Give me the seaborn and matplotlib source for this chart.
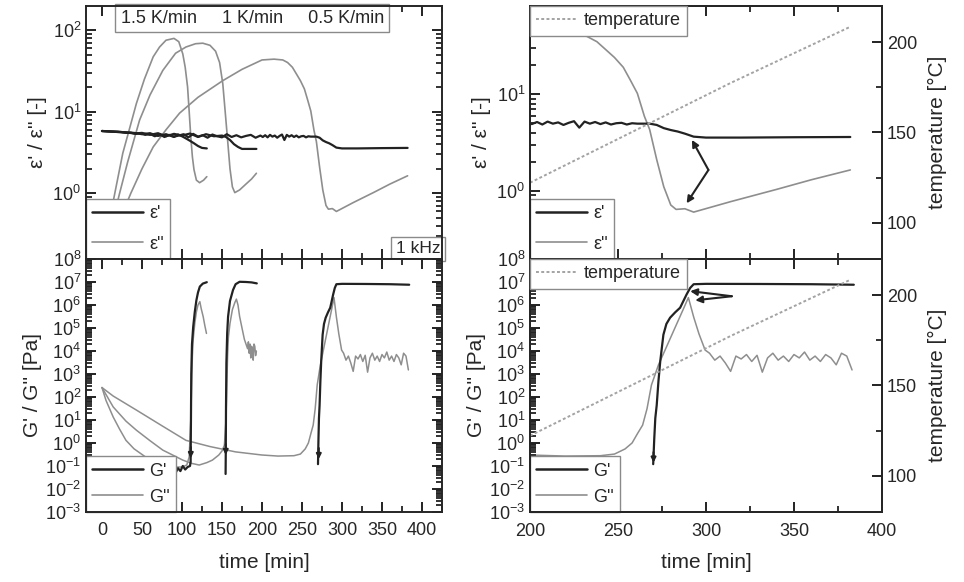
import numpy as np
import matplotlib
matplotlib.use("Agg")
import matplotlib.pyplot as plt
import matplotlib.ticker as mticker
from matplotlib.lines import Line2D
import seaborn as sns

# ── Data ─────────────────────────────────────────────────────────
# 1.5 K/min
time_15_e1 = [0, 10, 20, 30, 40, 50, 60, 70, 80, 90, 95, 100, 105, 110, 115, 120, 125, 131]
eps1_15 = [5.8, 5.75, 5.7, 5.55, 5.5, 5.3, 5.45, 5.05, 5.3, 4.9, 5.25, 5.0, 4.7, 4.4, 4.1, 3.8, 3.6, 3.55]
time_15_e2 = [0, 10, 16, 26, 35, 43, 53, 64, 72, 80, 90, 96, 101, 104, 107, 109, 111, 113, 115, 118, 122, 127, 131]
eps2_15 = [0.2, 0.5, 1.0, 3.1, 6.5, 12.6, 25, 47, 62, 75, 79, 72, 51, 35, 20, 10, 4.9, 2.8, 1.95, 1.45, 1.35, 1.45, 1.6]
time_15_g1 = [86, 89, 92, 95, 98, 101, 104, 107, 110, 110.8, 111.2, 111.6, 112.5, 114, 116, 118, 120, 122.3, 126, 131]
g1_15 = [0.06, 0.09, 0.05, 0.08, 0.06, 0.1, 0.07, 0.09, 0.1, 0.15, 10, 1e3, 2e4, 1.1e5, 5e5, 1.6e6, 3.5e6, 6.3e6, 8.5e6, 9.8e6]
time_15_g2 = [0, 5, 14, 22, 30, 40, 51, 60, 70, 80, 90, 100, 106, 109, 111, 112, 113, 114, 116, 118, 120, 122.3, 124, 126.5, 128.5, 130.6]
g2_15 = [257, 71, 13.5, 4.0, 1.3, 0.56, 0.3, 0.18, 0.13, 0.1, 0.09, 0.09, 0.11, 0.25, 10, 316, 6.3e3, 3.2e4,
         1.6e5, 5e5, 1e6, 1.4e6, 7e5, 3.1e5, 1.3e5, 5.8e4]

# 1 K/min
time_1_e1 = [0, 10, 20, 30, 40, 50, 60, 70, 80, 90, 100, 110, 120, 130, 140, 150, 155, 160, 165, 170, 175, 185, 193]
eps1_1 = [5.8, 5.7, 5.65, 5.6, 5.4, 5.5, 5.2, 5.45, 5.0, 5.35, 5.1, 5.4, 4.9, 5.3, 5.0, 5.1, 4.9, 4.5, 4.0, 3.7, 3.5, 3.5, 3.5]
time_1_e2 = [0, 12, 22, 32, 47, 60, 76, 92, 105, 117, 126, 135, 142, 147, 151, 154, 157, 160, 163, 166, 172, 180, 187, 193]
eps2_1 = [0.15, 0.4, 1.0, 2.4, 7.9, 16, 32, 52, 62, 68, 69, 65, 55, 40, 22, 10, 4.5, 2.0, 1.2, 1.02, 1.1, 1.3, 1.5, 1.76]
time_1_g1 = [154.5, 154.7, 155, 155.5, 156.5, 157.6, 160, 163.8, 167, 172, 180, 187, 193.5]
g1_1 = [0.045, 0.3, 30, 3e3, 6e4, 3.1e5, 1.5e6, 4.5e6, 8e6, 1.02e7, 1e7, 9.6e6, 8.7e6]
time_1_g2 = [0, 14, 30, 43, 60, 76, 90, 101, 112, 121.5, 131, 138, 146, 150, 153, 155, 156, 157, 158, 160, 163,
             166, 168, 170, 172, 175, 178, 180, 182, 183, 184, 185, 186, 187, 188, 189, 190, 191, 192, 193]
g2_1 = [257, 37, 8.9, 3.6, 1.26, 0.49, 0.28, 0.18, 0.13, 0.11, 0.14, 0.18, 0.3, 0.45, 0.8, 10, 316, 6.3e3, 4e4,
        1.6e5, 6.3e5, 1.26e6, 1.8e6, 1e6, 3.2e5, 1e5, 3.2e4, 2e4, 1.26e4, 2.5e4, 8e3, 2e4, 5e3, 1.6e4, 1.26e4,
        4e3, 2e4, 1.6e4, 6.3e3, 1e4]

# 0.5 K/min (also shown zoomed in the right-hand panels)
time_05_e1 = [0, 6, 12, 18, 24, 30, 36, 42, 48, 54, 60, 66, 72, 78, 84, 90, 96, 102, 108, 114, 120, 126, 132,
              138, 144, 150, 156, 162, 168, 174, 180, 186, 192, 198, 201, 204, 207, 210, 213, 216, 219, 222,
              225, 228, 231, 234, 237, 240, 243, 246, 249, 252, 255, 258, 261, 264, 268, 272, 276, 280, 284,
              288, 293, 300, 320, 350, 382]
eps1_05 = [5.8, 5.75, 5.7, 5.65, 5.6, 5.5, 5.55, 5.35, 5.45, 5.2, 5.35, 5.0, 5.3, 4.9, 5.2, 4.95, 5.1, 5.3,
           4.85, 5.35, 4.95, 5.15, 4.8, 5.25, 5.0, 4.85, 5.3, 4.9, 5.15, 4.85, 5.05, 5.2, 4.8, 5.1, 4.9, 5.15,
           4.85, 5.2, 4.95, 5.1, 4.8, 5.05, 5.25, 4.5, 5.2, 4.95, 5.15, 4.9, 5.1, 4.85, 5.0, 5.05, 4.85,
           5.0, 4.95, 4.95, 4.95, 4.8, 4.45, 4.25, 4.1, 3.9, 3.63, 3.55, 3.55, 3.58, 3.6]
time_05_e2 = [0, 15, 25, 36, 50, 64, 80, 97, 120, 151, 175, 200, 215, 226, 232, 238, 243, 248, 253, 257, 261,
              265, 268, 272, 276, 280, 283, 288, 293, 314, 340, 360, 382]
eps2_05 = [0.1, 0.3, 0.55, 1.0, 2.0, 3.7, 6.0, 9.6, 15, 24, 33, 43, 44, 43, 40, 35, 29, 24, 19, 14, 10.2,
           5.9, 4.3, 2.1, 1.1, 0.71, 0.64, 0.65, 0.6, 0.77, 1.03, 1.3, 1.64]
time_05_g1 = [270, 270.6, 271.2, 272, 273, 274, 275.8, 277.5, 279.6, 282.5, 285.3, 289, 291, 293, 300, 330, 360, 384]
g1_05 = [0.12, 1.5, 12, 44, 500, 3.5e3, 5.1e4, 1.5e5, 2.8e5, 4.8e5, 7.6e5, 2.9e6, 5.5e6, 8e6, 8.3e6, 8.2e6, 8e6, 7.6e6]
time_05_g2 = [0, 14, 43, 75, 105, 135, 167, 200, 220, 240, 248, 254, 258, 261, 264, 266.5, 269, 273, 278, 283,
              287, 290, 293, 296, 299.5, 302, 305, 308, 311, 314, 317, 320, 323, 326, 329, 332, 335, 338, 341,
              344, 347, 350, 353, 356, 359, 362, 365, 368, 371, 374, 377, 380, 383]
g2_05 = [257, 110, 27, 5.6, 1.3, 0.7, 0.41, 0.3, 0.27, 0.28, 0.33, 0.55, 1.0, 2.5, 6, 31, 330, 2.5e3, 1.8e4,
         1.3e5, 6.3e5, 2.1e6, 3e5, 5.6e4, 1.1e4, 8e3, 4e3, 6e3, 3e3, 1.3e3, 6e3, 4.5e3, 7e3, 3.5e3, 6.5e3,
         1.2e3, 5e3, 8e3, 4e3, 6e3, 3.5e3, 7e3, 5e3, 9e3, 4e3, 6e3, 3.5e3, 7e3, 5e3, 2.5e3, 8e3, 6e3, 1.5e3]

# temperature of the 0.5 K/min run
time_temp = [200, 314, 382]
temp_05 = [122.2, 177.4, 208.5]

# ── Style ────────────────────────────────────────────────────────
DARK = "#222222"
GREY = "#8e8e8e"
TEMP = "#a3a3a3"
BOX = "#8a8a8a"

sns.set_theme(style="ticks")
plt.rcParams["font.family"] = ["Liberation Sans", "DejaVu Sans"]
plt.rcParams["mathtext.default"] = "regular"
plt.rcParams["axes.linewidth"] = 1.4

fig = plt.figure(figsize=(9.64, 5.82), dpi=100)
fig.patch.set_facecolor("white")
ax_tl = fig.add_axes([0.0892, 0.5550, 0.3693, 0.4347])
ax_bl = fig.add_axes([0.0892, 0.1203, 0.3693, 0.4347])
ax_tr = fig.add_axes([0.5498, 0.5550, 0.3651, 0.4347])
ax_br = fig.add_axes([0.5498, 0.1203, 0.3651, 0.4347])

MINOR_LOG = [m * 10.0 ** e for e in range(-4, 9) for m in range(2, 10)]


def line(ax, t, v, color, lw, **kw):
    sns.lineplot(x=t, y=v, ax=ax, color=color, linewidth=lw, estimator=None,
                 sort=False, legend=False, **kw)


def log_y(ax, lo, hi):
    ax.set_yscale("log")
    ax.set_ylim(lo, hi)
    ax.yaxis.set_major_locator(mticker.LogLocator(base=10, numticks=30))
    ax.yaxis.set_minor_locator(mticker.FixedLocator(MINOR_LOG))
    ax.yaxis.set_minor_formatter(mticker.NullFormatter())


def time_x(ax, lo, hi):
    ax.set_xlim(lo, hi)
    ax.xaxis.set_major_locator(mticker.MultipleLocator(50))
    ax.xaxis.set_minor_locator(mticker.MultipleLocator(25))


def ticks(ax, right=True):
    ax.tick_params(which="both", direction="in", top=True, right=right, labelsize=13,
                   color="#222222")
    ax.tick_params(which="major", length=7, width=1.4)
    ax.tick_params(which="minor", length=4.5, width=1.3)


def temp_axis(tw):
    tw.set_ylim(80, 220)
    tw.yaxis.set_major_locator(mticker.MultipleLocator(50))
    tw.yaxis.set_minor_locator(mticker.MultipleLocator(25))
    tw.tick_params(which="both", direction="in", labelsize=13, color="#222222")
    tw.tick_params(which="major", length=7, width=1.4)
    tw.tick_params(which="minor", length=4.5, width=1.3)
    tw.set_ylabel("temperature [°C]", fontsize=15, labelpad=8)


def box_legend(ax, handles, labels, loc, hl=2.8, **kw):
    leg = ax.legend(handles, labels, loc=loc, borderaxespad=0, fancybox=False, framealpha=1,
                    edgecolor=BOX, fontsize=13, handlelength=hl, handletextpad=0.35,
                    borderpad=0.35, **kw)
    leg.get_frame().set_linewidth(1.0)
    leg.set_zorder(20)
    return leg


def arrow(ax, tail, head, ms=10):
    ax.annotate("", xy=head, xytext=tail,
                arrowprops=dict(arrowstyle="-|>", color=DARK, lw=1.5, mutation_scale=ms,
                                shrinkA=0, shrinkB=0))


h_dark = Line2D([], [], color=DARK, lw=1.8)
h_grey = Line2D([], [], color=GREY, lw=1.2)
h_temp = Line2D([], [], color=TEMP, lw=1.4, linestyle=(0, (1.5, 1.2)))

# ── Top left: permittivity ───────────────────────────────────────
for t, v in [(time_15_e2, eps2_15), (time_1_e2, eps2_1), (time_05_e2, eps2_05)]:
    line(ax_tl, t, v, GREY, 1.2)
for t, v in [(time_05_e1, eps1_05), (time_1_e1, eps1_1), (time_15_e1, eps1_15)]:
    line(ax_tl, t, v, DARK, 1.6)
log_y(ax_tl, 0.157, 197)
time_x(ax_tl, -20, 425)
ax_tl.tick_params(axis="x", labelbottom=False)
ax_tl.set_xlabel("")
ax_tl.set_ylabel("ε' / ε'' [-]", fontsize=15, labelpad=4)
box_legend(ax_tl, [h_dark, h_grey], ["ε'", "ε''"], "lower left", labelspacing=0.75)
ax_tl.text(0.467, 0.985, "1.5 K/min     1 K/min     0.5 K/min", transform=ax_tl.transAxes,
           ha="center", va="top", fontsize=13, zorder=20,
           bbox=dict(boxstyle="square,pad=0.3", fc="white", ec=BOX, lw=1.0))
ax_tl.text(0.995, 0.01, "1 kHz", transform=ax_tl.transAxes, ha="right", va="bottom",
           fontsize=12.5, zorder=20,
           bbox=dict(boxstyle="square,pad=0.25", fc="white", ec=BOX, lw=1.0))

# ── Bottom left: moduli ──────────────────────────────────────────
for t, v in [(time_15_g2, g2_15), (time_1_g2, g2_1), (time_05_g2, g2_05)]:
    line(ax_bl, t, v, GREY, 1.1)
for t, v in [(time_15_g1, g1_15), (time_1_g1, g1_1), (time_05_g1, g1_05)]:
    line(ax_bl, t, v, DARK, 1.6)
log_y(ax_bl, 1e-3, 1e8)
time_x(ax_bl, -20, 425)
for tt, yy in [(111, 0.22), (154.7, 0.3), (271, 0.2)]:
    arrow(ax_bl, (tt, yy * 3), (tt, yy), ms=7)
ax_bl.set_xlabel("time [min]", fontsize=15, labelpad=10)
ax_bl.set_ylabel("G' / G'' [Pa]", fontsize=15, labelpad=2)
box_legend(ax_bl, [h_dark, h_grey], ["G'", "G''"], "lower left", labelspacing=0.5)

# ── Top right: permittivity + temperature ────────────────────────
line(ax_tr, time_05_e2, eps2_05, GREY, 1.2)
line(ax_tr, time_05_e1, eps1_05, DARK, 1.6)
log_y(ax_tr, 0.196, 82)
time_x(ax_tr, 200, 400)
ax_tr.tick_params(axis="x", labelbottom=False)
ax_tr.set_xlabel("")
ax_tr.set_ylabel("ε' / ε'' [-]", fontsize=15, labelpad=4)
arrow(ax_tr, (301.4, 1.64), (292, 3.36))
arrow(ax_tr, (301.4, 1.64), (289, 0.74))
box_legend(ax_tr, [h_dark, h_grey], ["ε'", "ε''"], "lower left", labelspacing=0.75)

# ── Bottom right: moduli + temperature ───────────────────────────
line(ax_br, time_05_g2, g2_05, GREY, 1.1)
line(ax_br, time_05_g1, g1_05, DARK, 1.6)
log_y(ax_br, 1e-3, 1e8)
time_x(ax_br, 200, 400)
arrow(ax_br, (270.2, 0.4), (270.2, 0.14), ms=7)
arrow(ax_br, (314.7, 2.4e6), (291, 4e6))
arrow(ax_br, (314.7, 2.4e6), (293.9, 1.6e6))
ax_br.set_xlabel("time [min]", fontsize=15, labelpad=9)
ax_br.set_ylabel("G' / G'' [Pa]", fontsize=15, labelpad=2)
box_legend(ax_br, [h_dark, h_grey], ["G'", "G''"], "lower left", labelspacing=0.5)

# tick styling once all limits and locators are in place
ticks(ax_tl)
ticks(ax_bl)
ticks(ax_tr, right=False)
ticks(ax_br, right=False)
ax_bl.tick_params(axis="x", pad=7)
ax_br.tick_params(axis="x", pad=8)

# temperature twins
for ax in (ax_tr, ax_br):
    tw = ax.twinx()
    line(tw, time_temp, temp_05, TEMP, 1.4, linestyle=(0, (1.5, 1.2)))
    temp_axis(tw)
    box_legend(tw, [h_temp], ["temperature"], "upper left", hl=2.3)

# keep spines and ticks above the curves
for ax in (ax_tl, ax_bl, ax_tr, ax_br):
    ax.set_axisbelow(False)
    for sp in ax.spines.values():
        sp.set_zorder(30)

fig.savefig("out.png", dpi=100, facecolor="white")
plt.close(fig)
